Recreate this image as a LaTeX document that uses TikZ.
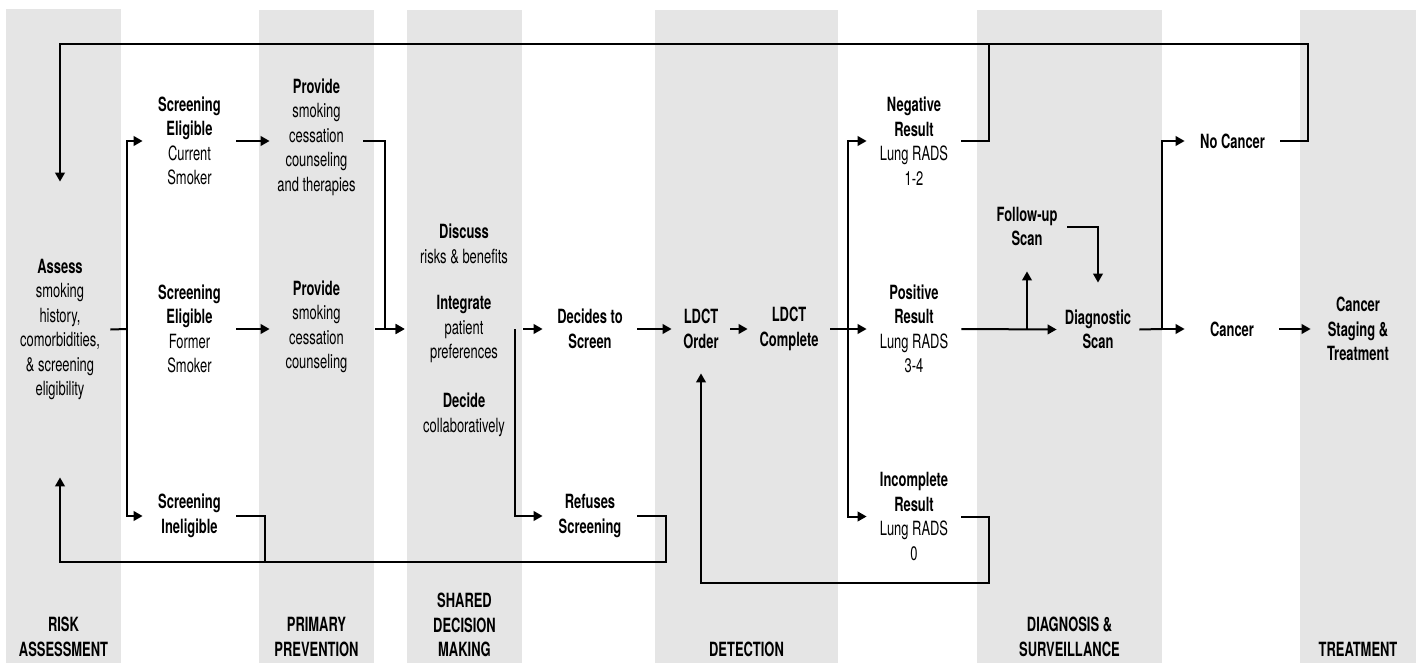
\documentclass[tikz,border=0pt]{standalone}
\usepackage{fontspec}
\setmainfont{TeX Gyre Heros}[FakeStretch=0.66]
\usetikzlibrary{arrows.meta}
\definecolor{band}{RGB}{229,229,229}
\begin{document}
\begin{tikzpicture}[x=0.5pt,y=-0.5pt,
  every node/.style={font=\fontsize{9.8}{12.25}\selectfont, align=center, inner sep=0pt},
  stage/.style={font=\fontsize{9.8}{12.25}\selectfont\bfseries},
  w/.style={minimum width=#1},
  h/.style={minimum height=#1},
  ln/.style={line width=1pt, draw=black},
  arr/.style={ln, -{Triangle[length=4.5pt,width=4.8pt]}}
]
\useasboundingbox (0,0) rectangle (1416,663);
% background bands
\fill[band] (6,9) rectangle (121,663);
\fill[band] (259,10) rectangle (374,663);
\fill[band] (407,10) rectangle (522,663);
\fill[band] (655,10) rectangle (838,663);
\fill[band] (977,10) rectangle (1162,663);
\fill[band] (1300,10) rectangle (1416,663);

% nodes
\node[w=50pt,h=147.5pt] (assess) at (60,329.5) {\textbf{Assess}\\smoking\\history,\\comorbidities,\\\& screening\\eligibility};
\node[w=46.5pt] (se1) at (189.5,141) {\textbf{Screening}\\\textbf{Eligible}\\Current\\Smoker};
\node[w=46.5pt] (se2) at (189.5,329) {\textbf{Screening}\\\textbf{Eligible}\\Former\\Smoker};
\node[w=46.5pt] (sin) at (189.5,516) {\textbf{Screening}\\\textbf{Ineligible}};
\node[w=46.5pt] (prov1) at (316.5,137) {\textbf{Provide}\\smoking\\cessation\\counseling\\and therapies};
\node[w=46.5pt] (prov2) at (316.5,327) {\textbf{Provide}\\smoking\\cessation\\counseling};
\node[w=59pt] (discuss) at (464,244) {\textbf{Discuss}\\risks \& benefits};
\node[w=59pt] (integrate) at (464,329) {\textbf{Integrate}\\patient\\preferences};
\node[w=59pt] (decide) at (464,415) {\textbf{Decide}\\collaboratively};
\node[w=47pt] (decides) at (590,329) {\textbf{Decides to}\\\textbf{Screen}};
\node[w=47pt] (refuses) at (590,516) {\textbf{Refuses}\\\textbf{Screening}};
\node[w=29pt,h=44pt] (order) at (701,329) {\textbf{LDCT}\\\textbf{Order}};
\node[w=41pt] (complete) at (789,329) {\textbf{LDCT}\\\textbf{Complete}};
\node[w=47pt] (neg) at (914,141) {\textbf{Negative}\\\textbf{Result}\\Lung RADS\\1-2};
\node[w=47pt] (pos) at (914,329) {\textbf{Positive}\\\textbf{Result}\\Lung RADS\\3-4};
\node[w=47pt] (inc) at (914,516.5) {\textbf{Incomplete}\\\textbf{Result}\\Lung RADS\\0};
\node[w=40pt,h=44.5pt] (follow) at (1027,226.5) {\textbf{Follow-up}\\\textbf{Scan}};
\node[w=41pt,h=46.5pt] (diag) at (1098,329.5) {\textbf{Diagnostic}\\\textbf{Scan}};
\node[w=47.5pt] (nocancer) at (1232.5,141) {\textbf{No Cancer}};
\node[w=47pt] (cancer) at (1232,329) {\textbf{Cancer}};
\node[w=47pt] (staging) at (1358,329) {\textbf{Cancer}\\\textbf{Staging \&}\\\textbf{Treatment}};

% stage labels
\node[stage] (lrisk) at (63.5,637) {RISK\\ASSESSMENT};
\node[stage] (lprim) at (316.5,637) {PRIMARY\\PREVENTION};
\node[stage] (lshared) at (464.5,625) {SHARED\\DECISION\\MAKING};
\node[stage] (ldet) at (746.5,649) {DETECTION};
\node[stage] (ldiag) at (1069.5,637) {DIAGNOSIS \&\\SURVEILLANCE};
\node[stage] (ltreat) at (1358,649) {TREATMENT};

% junction coordinates
\coordinate (f1) at (127,329);
\coordinate (f2) at (385,329);
\coordinate (f3) at (515,329);
\coordinate (f4) at (848,329);
\coordinate (f5) at (1162,329);
\coordinate (c1) at (1308,44);
\coordinate (c2) at (989,44);
\coordinate (c3) at (666,562);
\coordinate (c4) at (265,562);
\coordinate (c5) at (989,583);

% connectors
\draw[ln] (assess.east) -- (f1);
\draw[arr] (f1) |- (se1.west);
\draw[arr] (f1) |- (sin.west);
\draw[arr] (se1.east) -- (se1.east -| prov1.west);
\draw[arr] (se2.east) -- (se2.east -| prov2.west);
\draw[arr] (prov1.east |- se1.east) -| (f2) -- (integrate.west);
\draw[arr] ([xshift=6pt]prov2.east |- se2.east) -- (integrate.west);
\draw[ln] (sin.east) -| (c4);
\draw[arr] (refuses.east) -| (c3) -| (assess.south);
\draw[arr] (integrate.east) -- (decides.west);
\draw[arr] (f3) |- (refuses.west);
\draw[arr] (decides.east) -- (order.west);
\draw[arr] (order.east) -- (complete.west);
\draw[ln] (complete.east) -- (f4);
\draw[arr] (f4) |- (neg.west);
\draw[arr] (f4) -- (pos.west);
\draw[arr] (f4) |- (inc.west);
\draw[ln] (neg.east) -| (c2);
\draw[arr] (nocancer.east) -| (c1) -| (assess.north);
\draw[arr] (pos.east) -- (diag.west);
\draw[arr] (pos.east -| follow.south) -- (follow.south);
\draw[arr] (follow.east) -| (diag.north);
\draw[ln] (diag.east) -- (f5);
\draw[arr] (f5) |- (nocancer.west);
\draw[arr] (f5) -- (cancer.west);
\draw[arr] (cancer.east) -- (staging.west);
\draw[arr] (inc.east) -| (c5) -| (order.south);
\end{tikzpicture}
\end{document}
